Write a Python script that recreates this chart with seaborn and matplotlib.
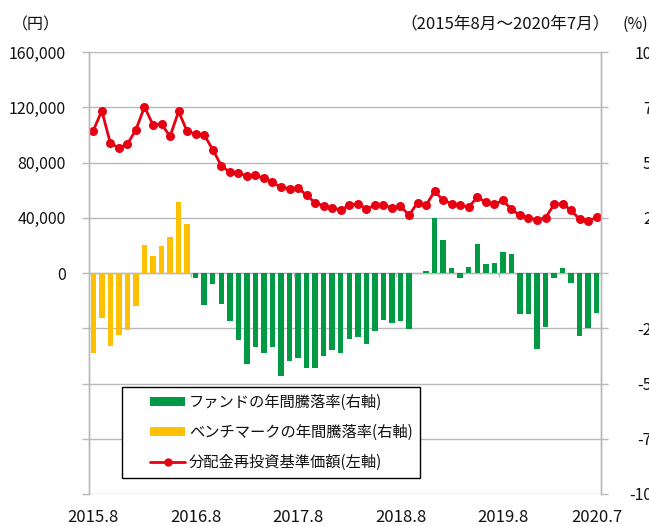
import numpy as np
import pandas as pd
import matplotlib
matplotlib.use("Agg")
import matplotlib.pyplot as plt
import seaborn as sns
from matplotlib.patches import Patch, Rectangle
from matplotlib.lines import Line2D

# 月次データ (2015年8月～2020年7月)
months = [str(p) for p in pd.period_range("2015-08", "2020-07", freq="M")]

# 分配金再投資基準価額 (円, 左軸)
nav = [103000, 117500, 94100, 90500, 93400, 103700, 120300, 107300, 107800, 98900,
       117000, 102500, 100600, 100100, 89300, 77800, 72900, 72400, 70300, 70700,
       68800, 65700, 62100, 61100, 61600, 56300, 50800, 48600, 47200, 45500,
       49100, 50300, 46400, 48900, 49100, 47200, 48400, 41900, 50800, 49100,
       59200, 52700, 50300, 49100, 47700, 54900, 51300, 49600, 52700, 46000,
       41700, 39900, 38500, 39900, 49600, 50300, 45300, 38800, 37500, 40400]

# ベンチマークの年間騰落率 (%, 右軸) 2015.8～2016.7
bench = [-36.4, -20.2, -33.1, -27.9, -25.8, -14.9, 12.8, 7.5, 12.3, 16.5, 32.3, 22.1]

# ファンドの年間騰落率 (%, 右軸) 2016.8～2020.7
fund = [-2.4, -14.6, -5.0, -13.9, -21.7, -30.4, -41.4, -33.6, -36.0, -33.4,
        -46.8, -39.9, -38.6, -43.1, -42.8, -37.5, -34.8, -36.1, -30.0, -28.8,
        -32.2, -26.4, -21.4, -22.4, -21.7, -25.5, 0.0, 1.1, 25.0, 15.0,
        2.3, -2.3, 2.7, 12.9, 4.1, 4.4, 9.4, 8.6, -18.4, -18.4,
        -34.4, -24.4, -2.1, 2.2, -4.6, -28.6, -25.0, -17.9]

xtick_idx = [0, 12, 24, 36, 48, 59]
xtick_labels = ["2015.8", "2016.8", "2017.8", "2018.8", "2019.8", "2020.7"]
left_ticks = [-160000, -120000, -80000, -40000, 0, 40000, 80000, 120000, 160000]
left_labels = ["", "", "", "", "0", "40,000", "80,000", "120,000", "160,000"]
right_ticks = [-100, -75, -50, -25, 0, 25, 50, 75, 100]
right_labels = ["-100", "-75", "-50", "-25", "0", "25", "50", "75", "100"]

GREEN = "#009944"
YELLOW = "#FFC000"
RED = "#E60012"
GRID = "#B8B8B8"
TXT = "#111111"

sns.set_theme(style="white")
plt.rcParams["font.family"] = ["Noto Sans CJK JP", "DejaVu Sans"]

bars = pd.DataFrame({
    "month": months,
    "rate": bench + fund,
    "series": ["bench"] * len(bench) + ["fund"] * len(fund),
})
line = pd.DataFrame({"month": months, "nav": nav})

fig = plt.figure(figsize=(6.49, 5.26), dpi=100)
ax = fig.add_axes([89 / 649, 32 / 526, 512 / 649, 442 / 526])
ax2 = ax.twinx()
ax.set_zorder(ax2.get_zorder() + 1)
ax.patch.set_visible(False)

# 棒グラフ (右軸)
sns.barplot(data=bars, x="month", y="rate", hue="series", dodge=False,
            palette={"bench": YELLOW, "fund": GREEN}, saturation=1, width=0.64,
            linewidth=0, legend=False, order=months, ax=ax2)
ax2.set_ylim(-100, 100)
ax2.set_yticks(right_ticks)
ax2.set_yticklabels(right_labels, fontsize=11.5, color=TXT)
for lbl in ax2.get_yticklabels():
    lbl.set_horizontalalignment("right")
ax2.tick_params(axis="y", which="major", right=True, length=5, width=1,
                color=GRID, pad=38, direction="out")
ax2.yaxis.grid(True, color=GRID, linewidth=1)
ax2.set_axisbelow(True)
ax2.axhline(0, color=GRID, linewidth=1, zorder=0.5)
ax2.vlines(np.arange(11.5, 59, 12), -1.8, 0, color=GRID, linewidth=1)
ax2.set_xlabel("")
ax2.set_ylabel("")

# 折れ線 (左軸)
sns.lineplot(x=np.arange(len(nav)), y=line["nav"], color=RED, linewidth=2,
             marker="o", markersize=6.5, markeredgewidth=0, ax=ax)
ax.set_ylim(-160000, 160000)
ax.set_yticks(left_ticks)
ax.set_yticklabels(left_labels, fontsize=11.5, color=TXT)
ax.tick_params(axis="y", left=True, length=5, width=1, color=GRID, pad=11.5,
               direction="out")
ax.set_xlim(-0.5, len(months) - 0.5)
ax.set_xticks(xtick_idx)
ax.set_xticklabels(xtick_labels, fontsize=12, color=TXT)
ax.tick_params(axis="x", bottom=True, length=0, pad=11)
ax.set_xlabel("")
ax.set_ylabel("")

for a in (ax, ax2):
    for side in ("top", "bottom"):
        a.spines[side].set_visible(False)
    for side in ("left", "right"):
        a.spines[side].set_color(GRID)
        a.spines[side].set_linewidth(1)
ax2.tick_params(axis="x", length=0, labelbottom=False)

# 凡例 (枠は別に描く)
ax.add_patch(Rectangle((33 / 512, 16 / 442), 298 / 512, 91 / 442,
                       transform=ax.transAxes, facecolor="white",
                       edgecolor="black", linewidth=1, zorder=5))
handles = [
    Patch(facecolor=GREEN, edgecolor="none", label="ファンドの年間騰落率(右軸)"),
    Patch(facecolor=YELLOW, edgecolor="none", label="ベンチマークの年間騰落率(右軸)"),
    Line2D([0], [0], color=RED, linewidth=2, marker="o", markersize=5,
           label="分配金再投資基準価額(左軸)"),
]
leg = ax.legend(handles=handles, loc="center left",
                bbox_to_anchor=(61 / 512, 61.5 / 442),
                fontsize=11, frameon=False, handlelength=2.3,
                handleheight=0.5, handletextpad=0.25, borderpad=0,
                labelspacing=0.85, borderaxespad=0)
leg.set_zorder(6)
for t in leg.get_texts():
    t.set_color(TXT)

fig.text(12 / 649, 1 - 25 / 526, "（円）", fontsize=11.5, va="center", ha="left",
         color=TXT)
fig.text(610 / 649, 1 - 24 / 526, "（2015年8月～2020年7月）", fontsize=12,
         va="center", ha="right", color=TXT)
fig.text(648 / 649, 1 - 24 / 526, "(%)", fontsize=11.5, va="center", ha="right",
         color=TXT)

fig.savefig("out.png", dpi=100)
